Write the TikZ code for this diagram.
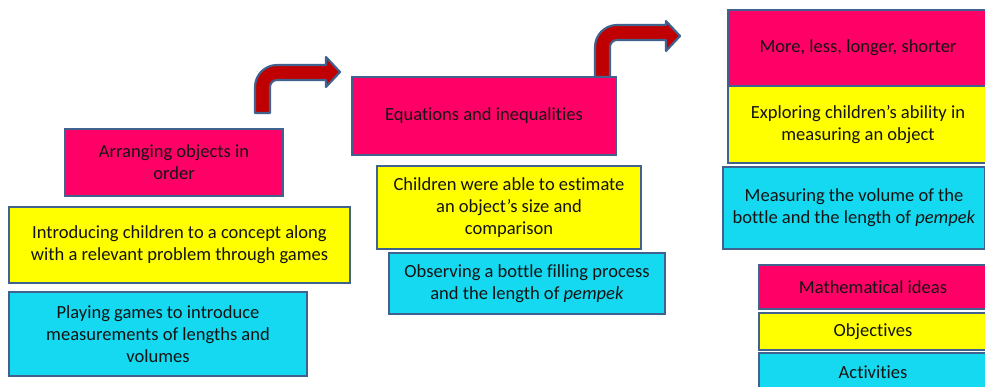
\documentclass[tikz,border=0pt]{standalone}
\usepackage[rgb]{xcolor}
\usepackage{fontspec}
\setmainfont{Carlito}[Ligatures=NoCommon]
\usepackage{tikz}

\definecolor{ideapink}{HTML}{FF0066}
\definecolor{goalyellow}{HTML}{FFFF00}
\definecolor{actcyan}{HTML}{14D9F0}
\definecolor{edgeblue}{HTML}{41628F}
\definecolor{arrowred}{HTML}{C00000}

\begin{document}
\begin{tikzpicture}[x=0.75pt, y=-0.75pt,
  box/.style={draw=edgeblue, line width=1.6pt, align=center, inner sep=0pt,
    text=black!92, font=\fontsize{13.9}{16.5}\selectfont},
  idea/.style={box, fill=ideapink},
  goal/.style={box, fill=goalyellow},
  act/.style={box, fill=actcyan},
  bent/.style={fill=arrowred, draw=edgeblue, line width=1.6pt, line join=round}]

\useasboundingbox (0,0) rectangle (985,386);

%
% Step arrows
%

% first step
\filldraw[bent] (255,113) -- (255,87) .. controls (255,74.85) and (264.85,65) .. (277,65)
  -- (326,65) -- (326,57) -- (340,72) -- (326,87) -- (326,80) -- (277,80)
  .. controls (273.1,80) and (270,83.1) .. (270,87) -- (270,113) -- cycle;

% second step
\filldraw[bent] (595,77) -- (595,47) .. controls (595,34.85) and (604.85,25) .. (617,25)
  -- (666,25) -- (666,21) -- (680,36) -- (666,51) -- (666,40) -- (617,40)
  .. controls (613.1,40) and (610,43.1) .. (610,47) -- (610,77) -- cycle;

%
% Left column
%
\node[idea, minimum width=163.5pt, minimum height=50.25pt] (ideaA) at (174,162.5)
  {Arranging objects in\\order};
\node[goal, minimum width=255.75pt, minimum height=57pt] (goalA) at (179.5,245)
  {Introducing children to a concept along\\with a relevant problem through games};
\node[act, minimum width=223.5pt, minimum height=63pt] (actA) at (158,334)
  {Playing games to introduce\\measurements of lengths and\\volumes};

%
% Middle column
%
\node[idea, minimum width=198pt, minimum height=58.5pt] (ideaB) at (484,116)
  {Equations and inequalities};
\node[goal, minimum width=198pt, minimum height=62.25pt] (goalB) at (509,207.5)
  {Children were able to estimate\\an object’s size and\\comparison};
\node[act, minimum width=207pt, minimum height=45.75pt] (actB) at (527,283.5)
  {Observing a bottle filling process\\and the length of \textit{pempek}};

%
% Right column
%
\node[idea, minimum width=195pt, minimum height=57pt] (ideaC) at (858,48)
  {More, less, longer, shorter};
\node[goal, minimum width=195pt, minimum height=57.75pt] (goalC) at (858,124.5)
  {Exploring children’s ability in\\measuring an object};
\node[act, minimum width=196.5pt, minimum height=61.5pt] (actC) at (854,208)
  {Measuring the volume of the\\bottle and the length of \textit{pempek}};

%
% Legend
%
\node[idea, minimum width=171pt, minimum height=33pt] (keyIdea) at (873,287)
  {Mathematical ideas};
\node[goal, minimum width=171pt, minimum height=27.75pt] (keyGoal) at (873,331.5)
  {Objectives};
\node[act, minimum width=171pt, minimum height=29.25pt] (keyAct) at (873,372.5)
  {Activities};

\end{tikzpicture}
\end{document}
